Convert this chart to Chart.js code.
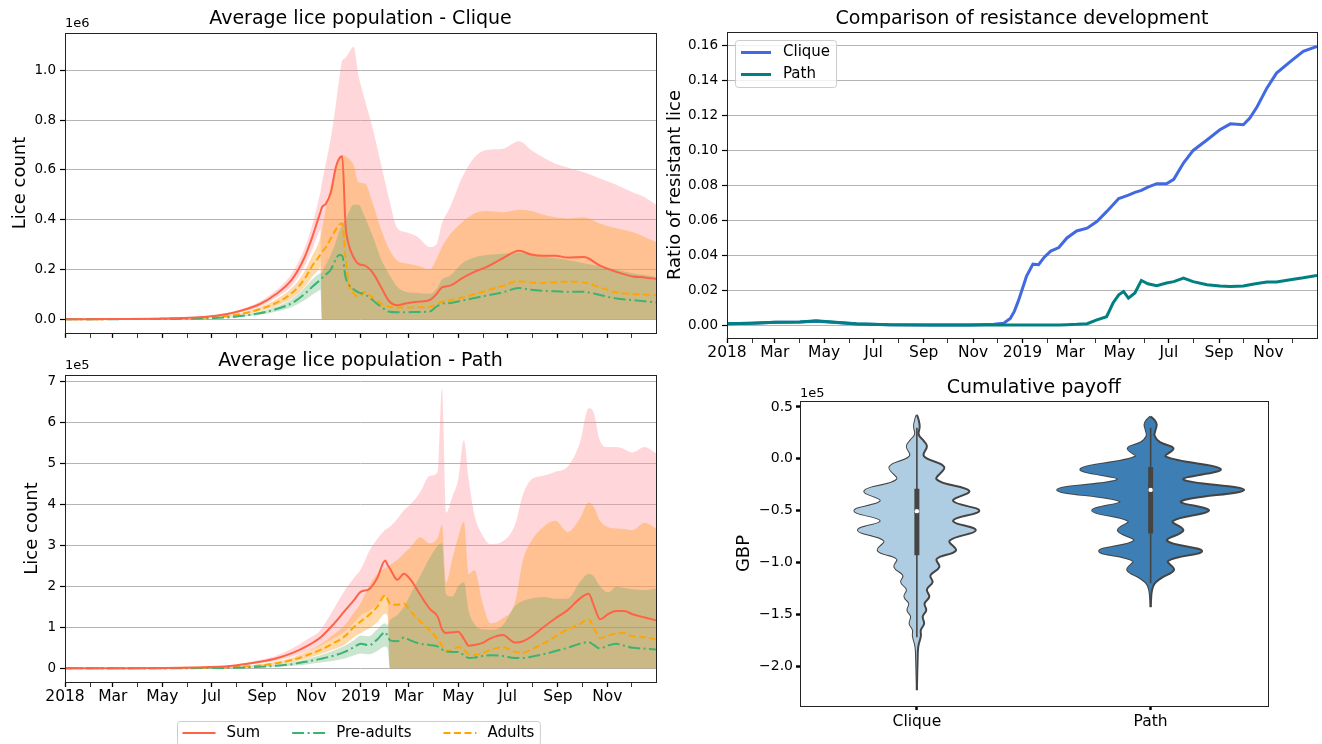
<!DOCTYPE html>
<html>
<head>
<meta charset="utf-8">
<title>Lice population, resistance and payoff</title>
<script src="https://cdn.jsdelivr.net/npm/chart.js@4.4.1/dist/chart.umd.min.js"></script>
<style>
  html, body { margin: 0; padding: 0; background: #fff; }
  body { width: 1322px; height: 744px; overflow: hidden; position: relative; }
  canvas { position: absolute; }
</style>
</head>
<body>
<canvas id="cliquePop" width="662" height="345" style="left:0;top:0"></canvas>
<canvas id="pathPop" width="662" height="399" style="left:0;top:345px"></canvas>
<canvas id="resistance" width="660" height="365" style="left:662px;top:0"></canvas>
<canvas id="payoff" width="660" height="379" style="left:662px;top:365px"></canvas>
<script>
// x axis = days since 2018-01-01
const monthStarts = [0, 31, 59, 90, 120, 151, 181, 212, 243, 273, 304, 334, 365, 396, 424, 455, 485, 516, 546, 577, 608, 638, 669, 699];
const monthLabels = ['2018', '', 'Mar', '', 'May', '', 'Jul', '', 'Sep', '', 'Nov', '', '2019', '', 'Mar', '', 'May', '', 'Jul', '', 'Sep', '', 'Nov', ''];

// Clique population (x 1e6)
const cliqueDays = [0, 60, 120, 180, 210, 240, 260, 280, 295, 305, 312, 315, 317, 322, 328, 334, 338, 342, 346, 350, 356, 362, 370, 380, 390, 400, 410, 420, 435, 450, 458, 465, 475, 490, 505, 520, 540, 560, 575, 590, 605, 620, 640, 660, 680, 700, 715, 729];
const cliqueSum = [0, 0.001, 0.003, 0.012, 0.028, 0.06, 0.1, 0.16, 0.245, 0.33, 0.4, 0.43, 0.45, 0.465, 0.51, 0.61, 0.645, 0.655, 0.38, 0.3, 0.248, 0.222, 0.215, 0.185, 0.128, 0.072, 0.056, 0.063, 0.07, 0.077, 0.1, 0.128, 0.135, 0.165, 0.19, 0.21, 0.245, 0.275, 0.26, 0.255, 0.255, 0.248, 0.25, 0.215, 0.19, 0.172, 0.168, 0.162];
const cliqueSumHi = [0, 0.0012, 0.0035, 0.014, 0.033, 0.07, 0.115, 0.185, 0.28, 0.38, 0.47, 0.51, 0.55, 0.63, 0.73, 0.86, 0.96, 1.04, 1.05, 1.07, 1.095, 0.98, 0.88, 0.76, 0.62, 0.48, 0.365, 0.35, 0.33, 0.29, 0.3, 0.385, 0.45, 0.57, 0.65, 0.68, 0.685, 0.715, 0.68, 0.65, 0.625, 0.61, 0.59, 0.565, 0.54, 0.51, 0.49, 0.46];
const cliqueSumLo = [0, 0.0008, 0.0025, 0.01, 0.023, 0.05, 0.085, 0.135, 0.21, 0.28, 0.34, 0.36, 0, 0, 0, 0, 0, 0, 0, 0, 0, 0, 0, 0, 0, 0, 0, 0, 0, 0, 0, 0, 0, 0, 0, 0, 0, 0, 0, 0, 0, 0, 0, 0, 0, 0, 0, 0];
const cliqueAdults = [0, 0.0005, 0.002, 0.007, 0.017, 0.04, 0.065, 0.105, 0.16, 0.215, 0.245, 0.26, 0.27, 0.29, 0.325, 0.36, 0.38, 0.385, 0.25, 0.145, 0.105, 0.09, 0.11, 0.085, 0.063, 0.05, 0.047, 0.047, 0.048, 0.05, 0.06, 0.07, 0.076, 0.087, 0.1, 0.115, 0.134, 0.153, 0.147, 0.146, 0.149, 0.151, 0.148, 0.128, 0.108, 0.101, 0.099, 0.097];
const cliqueAdultsHi = [0, 0.0006, 0.0024, 0.0085, 0.02, 0.048, 0.078, 0.126, 0.19, 0.255, 0.3, 0.33, 0.36, 0.45, 0.54, 0.61, 0.65, 0.66, 0.655, 0.645, 0.62, 0.55, 0.545, 0.46, 0.36, 0.28, 0.235, 0.225, 0.215, 0.2, 0.24, 0.29, 0.34, 0.39, 0.425, 0.435, 0.43, 0.44, 0.435, 0.42, 0.41, 0.405, 0.41, 0.385, 0.365, 0.35, 0.33, 0.31];
const cliqueAdultsLo = [0, 0.0004, 0.0016, 0.0056, 0.0136, 0.032, 0.052, 0.084, 0.128, 0.172, 0.196, 0.208, 0, 0, 0, 0, 0, 0, 0, 0, 0, 0, 0, 0, 0, 0, 0, 0, 0, 0, 0, 0, 0, 0, 0, 0, 0, 0, 0, 0, 0, 0, 0, 0, 0, 0, 0, 0];
const cliquePre = [0, 0.0003, 0.001, 0.004, 0.01, 0.024, 0.04, 0.065, 0.1, 0.13, 0.15, 0.158, 0.165, 0.18, 0.2, 0.24, 0.258, 0.255, 0.17, 0.14, 0.12, 0.108, 0.1, 0.075, 0.05, 0.03, 0.028, 0.028, 0.029, 0.031, 0.05, 0.062, 0.065, 0.075, 0.085, 0.095, 0.108, 0.125, 0.118, 0.114, 0.112, 0.11, 0.11, 0.097, 0.083, 0.077, 0.072, 0.068];
const cliquePreHi = [0, 0.0004, 0.0013, 0.005, 0.0125, 0.03, 0.05, 0.081, 0.125, 0.16, 0.18, 0.185, 0.19, 0.22, 0.26, 0.31, 0.35, 0.38, 0.4, 0.43, 0.46, 0.46, 0.41, 0.33, 0.24, 0.18, 0.13, 0.11, 0.105, 0.102, 0.12, 0.16, 0.175, 0.225, 0.248, 0.258, 0.263, 0.267, 0.262, 0.252, 0.245, 0.238, 0.225, 0.213, 0.2, 0.185, 0.178, 0.17];
const cliquePreLo = [0, 0.0002, 0.0008, 0.003, 0.0075, 0.018, 0.03, 0.049, 0.075, 0.098, 0.112, 0.118, 0, 0, 0, 0, 0, 0, 0, 0, 0, 0, 0, 0, 0, 0, 0, 0, 0, 0, 0, 0, 0, 0, 0, 0, 0, 0, 0, 0, 0, 0, 0, 0, 0, 0, 0, 0];

// Path population (x 1e5)
const pathDays = [0, 60, 120, 180, 210, 240, 260, 280, 300, 315, 330, 345, 356, 365, 375, 385, 395, 398, 401, 410, 418, 426, 438, 450, 460, 465, 470, 478, 485, 492, 498, 505, 515, 525, 540, 555, 565, 575, 590, 605, 620, 635, 646, 652, 660, 670, 680, 690, 700, 715, 729];
const pathSum = [0, 0.002, 0.006, 0.03, 0.07, 0.16, 0.24, 0.37, 0.56, 0.75, 1.05, 1.4, 1.65, 1.87, 1.93, 2.2, 2.63, 2.52, 2.43, 2.16, 2.31, 2.17, 1.8, 1.45, 1.25, 0.95, 0.86, 0.88, 0.89, 0.72, 0.55, 0.57, 0.62, 0.73, 0.81, 0.63, 0.66, 0.77, 1.0, 1.22, 1.42, 1.7, 1.82, 1.55, 1.2, 1.32, 1.4, 1.4, 1.32, 1.24, 1.17];
const pathSumHi = [0, 0.0025, 0.008, 0.04, 0.09, 0.2, 0.3, 0.48, 0.72, 0.93, 1.4, 1.9, 2.2, 2.42, 2.85, 3.15, 3.38, 3.42, 3.46, 3.65, 3.86, 4.0, 4.3, 4.7, 4.8, 6.84, 3.8, 4.2, 4.6, 5.57, 4.6, 3.75, 3.25, 3.03, 3.1, 3.5, 4.25, 4.6, 4.7, 4.8, 4.92, 5.5, 6.35, 6.25, 5.55, 5.4, 5.4, 5.35, 5.27, 5.4, 5.25];
const pathSumLo = [0, 0.0015, 0.004, 0.02, 0.05, 0.12, 0.18, 0.28, 0.42, 0.55, 0.72, 0.9, 1.1, 1.3, 1.4, 1.55, 1.75, 1.7, 0, 0, 0, 0, 0, 0, 0, 0, 0, 0, 0, 0, 0, 0, 0, 0, 0, 0, 0, 0, 0, 0, 0, 0, 0, 0, 0, 0, 0, 0, 0, 0, 0];
const pathAdults = [0, 0.001, 0.003, 0.012, 0.03, 0.07, 0.12, 0.2, 0.33, 0.45, 0.6, 0.78, 1.0, 1.15, 1.3, 1.5, 1.78, 1.68, 1.57, 1.55, 1.58, 1.4, 1.15, 0.92, 0.7, 0.55, 0.42, 0.45, 0.52, 0.45, 0.34, 0.33, 0.37, 0.45, 0.52, 0.4, 0.38, 0.46, 0.6, 0.78, 0.95, 1.08, 1.2, 1.0, 0.74, 0.8, 0.85, 0.86, 0.78, 0.76, 0.7];
const pathAdultsHi = [0, 0.0013, 0.004, 0.016, 0.04, 0.09, 0.16, 0.26, 0.42, 0.58, 0.8, 1.05, 1.35, 1.6, 2.0, 2.3, 2.45, 2.48, 2.52, 2.65, 2.8, 2.95, 3.2, 3.05, 3.2, 3.5, 2.1, 2.7, 3.2, 3.58, 2.3, 2.4, 1.6, 1.1, 1.22, 1.6, 2.65, 3.1, 3.45, 3.6, 3.33, 3.65, 4.05, 3.95, 3.6, 3.44, 3.41, 3.4, 3.37, 3.55, 3.41];
const pathAdultsLo = [0, 0.0008, 0.002, 0.009, 0.022, 0.052, 0.09, 0.15, 0.25, 0.34, 0.45, 0.58, 0.75, 0.86, 0.97, 1.12, 1.33, 1.26, 0, 0, 0, 0, 0, 0, 0, 0, 0, 0, 0, 0, 0, 0, 0, 0, 0, 0, 0, 0, 0, 0, 0, 0, 0, 0, 0, 0, 0, 0, 0, 0, 0];
const pathPre = [0, 0.0005, 0.002, 0.006, 0.015, 0.035, 0.06, 0.1, 0.17, 0.23, 0.3, 0.4, 0.51, 0.6, 0.56, 0.7, 0.88, 0.78, 0.68, 0.66, 0.75, 0.68, 0.6, 0.57, 0.53, 0.46, 0.41, 0.4, 0.4, 0.32, 0.25, 0.26, 0.3, 0.32, 0.3, 0.25, 0.25, 0.28, 0.34, 0.42, 0.5, 0.6, 0.64, 0.57, 0.48, 0.56, 0.6, 0.55, 0.5, 0.48, 0.46];
const pathPreHi = [0, 0.0007, 0.0028, 0.009, 0.022, 0.05, 0.085, 0.14, 0.24, 0.32, 0.42, 0.55, 0.68, 0.8, 0.78, 0.95, 1.1, 1.05, 1.17, 1.3, 1.5, 1.8, 2.25, 2.7, 3.0, 3.05, 1.8, 1.75, 2.0, 2.1, 1.4, 1.08, 0.95, 0.94, 1.05, 1.52, 1.65, 1.7, 1.74, 1.7, 1.7, 2.1, 2.3, 2.25, 2.0, 1.85, 1.99, 1.96, 1.93, 1.91, 1.95];
const pathPreLo = [0, 0.0003, 0.0012, 0.0036, 0.009, 0.021, 0.036, 0.06, 0.1, 0.14, 0.18, 0.24, 0.31, 0.36, 0.34, 0.42, 0.53, 0.47, 0, 0, 0, 0, 0, 0, 0, 0, 0, 0, 0, 0, 0, 0, 0, 0, 0, 0, 0, 0, 0, 0, 0, 0, 0, 0, 0, 0, 0, 0, 0, 0, 0];

// Ratio of resistant lice
const ratioDays = [0, 30, 60, 90, 110, 130, 160, 200, 250, 300, 330, 342, 350, 355, 360, 365, 370, 378, 385, 392, 400, 410, 420, 432, 445, 457, 469, 477, 484, 490, 496, 504, 512, 520, 531, 543, 552, 564, 576, 593, 609, 622, 638, 646, 655, 667, 679, 696, 712, 729];
const cliqueRatio = [0.001, 0.0013, 0.0018, 0.002, 0.0024, 0.0018, 0.0008, 0.0004, 0.0003, 0.0003, 0.0006, 0.0013, 0.004, 0.008, 0.014, 0.021, 0.028, 0.035, 0.0347, 0.039, 0.0425, 0.0445, 0.05, 0.054, 0.0556, 0.0594, 0.065, 0.069, 0.0725, 0.0735, 0.0745, 0.076, 0.0772, 0.079, 0.081, 0.081, 0.0835, 0.0928, 0.1, 0.106, 0.1118, 0.1152, 0.1147, 0.1185, 0.125, 0.1356, 0.1442, 0.1508, 0.1566, 0.1594];
const pathRatio = [0.001, 0.0013, 0.0018, 0.002, 0.0026, 0.0019, 0.0009, 0.0004, 0.0003, 0.0002, 0.0002, 0.0002, 0.0002, 0.0002, 0.0002, 0.0002, 0.0002, 0.0002, 0.0002, 0.0002, 0.0002, 0.0003, 0.0004, 0.0006, 0.001, 0.0032, 0.005, 0.0128, 0.0175, 0.0194, 0.0156, 0.0185, 0.0257, 0.0238, 0.0227, 0.0242, 0.025, 0.027, 0.025, 0.0232, 0.0225, 0.0223, 0.0225, 0.0232, 0.024, 0.0248, 0.0248, 0.0261, 0.0272, 0.0286];

// Cumulative payoff violins (GBP x 1e5): outline half-widths in category units
const violinNames = ['Clique', 'Path'];
const cliqueLevels = [0.424, 0.38, 0.31, 0.233, 0.17, 0.121, 0.025, -0.08, -0.2, -0.31, -0.406, -0.5, -0.597, -0.69, -0.789, -0.885, -0.965, -1.044, -1.124, -1.19, -1.26, -1.33, -1.395, -1.46, -1.52, -1.59, -1.65, -1.71, -1.81, -1.95, -2.23];
const cliqueWidth = [0, 0.007, 0.012, 0.008, 0.03, 0.043, 0.03, 0.117, 0.085, 0.224, 0.155, 0.267, 0.155, 0.252, 0.14, 0.167, 0.085, 0.096, 0.058, 0.067, 0.043, 0.053, 0.033, 0.04, 0.025, 0.031, 0.017, 0.017, 0.006, 0.003, 0];
const pathLevels = [0.408, 0.37, 0.33, 0.27, 0.22, 0.16, 0.1, 0.02, -0.1, -0.2, -0.3, -0.41, -0.5, -0.6, -0.69, -0.79, -0.89, -0.985, -1.07, -1.15, -1.21, -1.28, -1.35, -1.43];
const pathWidth = [0, 0.018, 0.026, 0.02, 0.017, 0.04, 0.098, 0.065, 0.3, 0.14, 0.4, 0.13, 0.25, 0.095, 0.14, 0.07, 0.22, 0.075, 0.1, 0.045, 0.015, 0.005, 0.002, 0];
const boxQ1 = [-0.93, -0.72];
const boxQ3 = [-0.29, -0.08];
const medians = [-0.505, -0.3];
const whiskerLo = [-1.72, -1.2];
const whiskerHi = [0.3, 0.3];

Chart.defaults.font.family = "'DejaVu Sans', sans-serif";
Chart.defaults.color = '#000';
Chart.defaults.animation = false;
Chart.defaults.responsive = false;
Chart.defaults.devicePixelRatio = 1;
Chart.defaults.plugins.legend.display = false;
Chart.defaults.plugins.tooltip.enabled = false;
Chart.defaults.elements.point.radius = 0;

// black box round the plot area, like matplotlib spines
const frame = {
  id: 'frame',
  afterDraw(chart) {
    const {ctx, chartArea: a} = chart;
    ctx.save();
    ctx.strokeStyle = '#222';
    ctx.lineWidth = 1;
    ctx.strokeRect(Math.round(a.left) + 0.5, Math.round(a.top) + 0.5, Math.round(a.right - a.left), Math.round(a.bottom - a.top));
    ctx.restore();
  }
};

// "1e6" style scale note above the y axis
const offsetText = {
  id: 'offsetText',
  afterDraw(chart, args, opts) {
    if (!opts.text) return;
    const {ctx, chartArea: a} = chart;
    ctx.save();
    ctx.font = "13px 'DejaVu Sans'";
    ctx.fillStyle = '#000';
    ctx.textBaseline = 'bottom';
    ctx.fillText(opts.text, a.left, a.top - (opts.gap || 3));
    ctx.restore();
  }
};

// matplotlib-like legend box drawn from dataset styles
const boxLegend = {
  id: 'boxLegend',
  afterDraw(chart, args, o) {
    if (!o.datasets) return;
    const ctx = chart.ctx;
    const items = o.datasets.map(i => chart.data.datasets[i]);
    ctx.save();
    ctx.font = "15px 'DejaVu Sans'";
    ctx.textBaseline = 'middle';
    const widths = items.map(d => ctx.measureText(d.label).width);
    let w, h;
    if (o.horizontal) {
      w = o.pad * 2 + widths.reduce((s, tw) => s + o.lineLength + o.textGap + tw, 0) + o.itemGap * (items.length - 1);
      h = o.rowHeight + o.padY * 2;
    } else {
      w = o.pad * 2 + o.lineLength + o.textGap + Math.max(...widths);
      h = o.rowHeight * items.length + o.padY * 2;
    }
    ctx.beginPath();
    ctx.roundRect(o.left + 0.5, o.top + 0.5, w, h, 3);
    ctx.fillStyle = 'rgba(255,255,255,0.8)';
    ctx.fill();
    ctx.strokeStyle = '#cccccc';
    ctx.lineWidth = 1;
    ctx.stroke();
    let x = o.left + o.pad;
    let y = o.top + o.padY + o.rowHeight / 2;
    items.forEach((d, i) => {
      ctx.strokeStyle = d.borderColor;
      ctx.lineWidth = d.borderWidth;
      ctx.setLineDash(d.borderDash || []);
      ctx.beginPath();
      ctx.moveTo(x, y);
      ctx.lineTo(x + o.lineLength, y);
      ctx.stroke();
      ctx.setLineDash([]);
      ctx.fillStyle = '#000';
      ctx.fillText(d.label, x + o.lineLength + o.textGap, y);
      if (o.horizontal) x += o.lineLength + o.textGap + widths[i] + o.itemGap;
      else y += o.rowHeight;
    });
    ctx.restore();
  }
};

Chart.register(frame, offsetText, boxLegend);

function titleOpts(text, top, bottom) {
  return {display: true, text, fullSize: false, color: '#000',
          font: {size: 19, weight: 'normal'}, padding: {top, bottom}};
}

function dateAxis(showLabels, height) {
  return {
    type: 'linear', min: 0, max: 729,
    afterBuildTicks: s => { s.ticks = monthStarts.map(v => ({value: v})); },
    afterFit: s => { s.height = height; },
    border: {display: false},
    grid: {drawOnChartArea: false, drawTicks: true, tickLength: 5, tickColor: '#000',
           tickWidth: c => (c.index % 2 === 0 ? 1.3 : 0.8)},
    ticks: {autoSkip: false, maxRotation: 0, padding: 1, font: {size: 15.5},
            callback: (v, i) => (showLabels ? monthLabels[i] : '')}
  };
}

function valueAxis(min, max, ticks, fmt, width, title, titlePad) {
  return {
    type: 'linear', min, max,
    afterBuildTicks: s => { s.ticks = ticks.map(v => ({value: v})); },
    afterFit: s => { s.width = width; },
    border: {display: false},
    grid: {color: '#b4b4b4', lineWidth: 1, drawTicks: true, tickLength: 5, tickColor: '#000', tickWidth: 1.2},
    ticks: {padding: 4, font: {size: 13.5}, callback: fmt},
    title: {display: true, text: title, font: {size: 18}, padding: {top: titlePad, bottom: 0}}
  };
}

function makePopChart(id, days, s, o) {
  const pts = arr => arr.map((v, i) => ({x: days[i], y: v}));
  const line = (label, data, color, dash) => ({
    label, data: pts(data), borderColor: color, borderWidth: 2, borderDash: dash,
    fill: false, order: 0, cubicInterpolationMode: 'monotone'
  });
  const band = (data, color, order, fill) => ({
    data: pts(data), borderWidth: 0, borderColor: 'rgba(0,0,0,0)', backgroundColor: color,
    fill, order, cubicInterpolationMode: 'monotone'
  });
  return new Chart(document.getElementById(id), {
    type: 'line',
    data: {
      datasets: [
        line('Sum', s.sum, '#ff6347', []),
        line('Pre-adults', s.pre, '#3cb371', [12, 3.5, 2, 3.5]),
        line('Adults', s.adults, '#ffa500', [7, 3.5]),
        band(s.sumHi, 'rgba(255,140,150,0.36)', 3, '+1'),
        band(s.sumLo, 'rgba(0,0,0,0)', 3, false),
        band(s.adultsHi, 'rgba(255,160,40,0.4)', 2, '+1'),
        band(s.adultsLo, 'rgba(0,0,0,0)', 2, false),
        band(s.preHi, 'rgba(80,170,100,0.3)', 1, '+1'),
        band(s.preLo, 'rgba(0,0,0,0)', 1, false)
      ]
    },
    options: {
      layout: {padding: {left: 0, right: 6, top: 0, bottom: 0}},
      scales: {
        x: dateAxis(o.xLabels, o.xHeight),
        y: valueAxis(o.yMin, o.yMax, o.yTicks, o.yFmt, 65, 'Lice count', o.yTitlePad)
      },
      plugins: {
        title: titleOpts(o.title, o.titlePad[0], o.titlePad[1]),
        offsetText: {text: o.offset, gap: o.offsetGap},
        boxLegend: o.legend || {}
      }
    }
  });
}

makePopChart('cliquePop', cliqueDays, {
  sum: cliqueSum, sumHi: cliqueSumHi, sumLo: cliqueSumLo,
  adults: cliqueAdults, adultsHi: cliqueAdultsHi, adultsLo: cliqueAdultsLo,
  pre: cliquePre, preHi: cliquePreHi, preLo: cliquePreLo
}, {
  title: 'Average lice population - Clique', titlePad: [7.6, 2.6],
  yMin: -0.055, yMax: 1.15, yTicks: [0, 0.2, 0.4, 0.6, 0.8, 1.0], yFmt: v => v.toFixed(1),
  yTitlePad: 9.2, xLabels: false, xHeight: 5, offset: '1e6', offsetGap: 3
});

makePopChart('pathPop', pathDays, {
  sum: pathSum, sumHi: pathSumHi, sumLo: pathSumLo,
  adults: pathAdults, adultsHi: pathAdultsHi, adultsLo: pathAdultsLo,
  pre: pathPre, preHi: pathPreHi, preLo: pathPreLo
}, {
  title: 'Average lice population - Path', titlePad: [5.1, 2.1],
  yMin: -0.335, yMax: 7.16, yTicks: [0, 1, 2, 3, 4, 5, 6, 7], yFmt: v => String(v),
  yTitlePad: 22, xLabels: true, xHeight: 62, offset: '1e5', offsetGap: 3,
  legend: {datasets: [0, 1, 2], horizontal: true, left: 177, top: 376, pad: 5.5,
           lineLength: 33, textGap: 11, itemGap: 32, rowHeight: 24, padY: 0}
});

// resistance development
const ratioPts = arr => arr.map((v, i) => ({x: ratioDays[i], y: v}));
new Chart(document.getElementById('resistance'), {
  type: 'line',
  data: {
    datasets: [
      {label: 'Clique', data: ratioPts(cliqueRatio), borderColor: '#4169e1', borderWidth: 3, fill: false, order: 1},
      {label: 'Path', data: ratioPts(pathRatio), borderColor: '#008080', borderWidth: 3, fill: false, order: 0}
    ]
  },
  options: {
    layout: {padding: {left: 0, right: 5, top: 0, bottom: 0}},
    scales: {
      x: dateAxis(true, 27),
      y: valueAxis(-0.0072, 0.1677, [0, 0.02, 0.04, 0.06, 0.08, 0.10, 0.12, 0.14, 0.16],
                   v => v.toFixed(2), 65, 'Ratio of resistant lice', 2.2)
    },
    plugins: {
      title: titleOpts('Comparison of resistance development', 7.6, 1.6),
      boxLegend: {datasets: [0, 1], horizontal: false, left: 73, top: 40, pad: 6,
                  lineLength: 30, textGap: 12, rowHeight: 22, padY: 1.5}
    }
  }
});

// cumulative payoff violins, drawn horizontally filled between outlines
const outline = (levels, widths, center, side) => levels.map((v, i) => ({x: center + side * widths[i], y: v}));
const stick = (i, lo, hi) => [{x: i, y: hi[i]}, {x: i, y: lo[i]}];
const violinEdge = '#444444';
new Chart(document.getElementById('payoff'), {
  type: 'line',
  data: {
    datasets: [
      {data: medians.map((m, i) => ({x: i, y: m})), showLine: false, pointRadius: 2.2,
       pointBackgroundColor: '#fff', pointBorderWidth: 0, order: 0},
      {data: stick(0, boxQ1, boxQ3), borderColor: violinEdge, borderWidth: 5, order: 1},
      {data: stick(1, boxQ1, boxQ3), borderColor: violinEdge, borderWidth: 5, order: 1},
      {data: stick(0, whiskerLo, whiskerHi), borderColor: violinEdge, borderWidth: 1.6, order: 2},
      {data: stick(1, whiskerLo, whiskerHi), borderColor: violinEdge, borderWidth: 1.6, order: 2},
      {data: outline(cliqueLevels, cliqueWidth, 0, 1), fill: '+1', backgroundColor: '#aecde3',
       borderColor: violinEdge, borderWidth: 2, tension: 0.4, order: 3},
      {data: outline(cliqueLevels, cliqueWidth, 0, -1), fill: false,
       borderColor: violinEdge, borderWidth: 2, tension: 0.4, order: 3},
      {data: outline(pathLevels, pathWidth, 1, 1), fill: '+1', backgroundColor: '#3d7fb5',
       borderColor: violinEdge, borderWidth: 2, tension: 0.4, order: 4},
      {data: outline(pathLevels, pathWidth, 1, -1), fill: false,
       borderColor: violinEdge, borderWidth: 2, tension: 0.4, order: 4}
    ]
  },
  options: {
    indexAxis: 'y',
    layout: {padding: {left: 0, right: 54.5, top: 0, bottom: 0}},
    scales: {
      x: {
        type: 'linear', min: -0.5, max: 1.5,
        afterBuildTicks: s => { s.ticks = [{value: 0}, {value: 1}]; },
        afterFit: s => { s.height = 38; },
        border: {display: false},
        grid: {drawOnChartArea: false, drawTicks: true, tickLength: 4, tickWidth: 2.5, tickColor: '#000'},
        ticks: {font: {size: 15.5}, padding: 3, callback: (v, i) => violinNames[i]}
      },
      y: {
        type: 'linear', min: -2.383, max: 0.557,
        afterBuildTicks: s => { s.ticks = [-2, -1.5, -1, -0.5, 0, 0.5].map(v => ({value: v})); },
        afterFit: s => { s.width = 138; },
        border: {display: false},
        grid: {drawOnChartArea: false, drawTicks: true, tickLength: 4, tickWidth: 2.5, tickColor: '#000'},
        ticks: {font: {size: 14}, padding: 3,
                callback: v => (v < 0 ? '\u2212' : '') + Math.abs(v).toFixed(1)},
        title: {display: true, text: 'GBP', font: {size: 18}, padding: {top: 72, bottom: 0}}
      }
    },
    plugins: {
      title: titleOpts('Cumulative payoff', 11.6, 1.6),
      offsetText: {text: '1e5', gap: 1}
    }
  }
});
</script>
</body>
</html>
